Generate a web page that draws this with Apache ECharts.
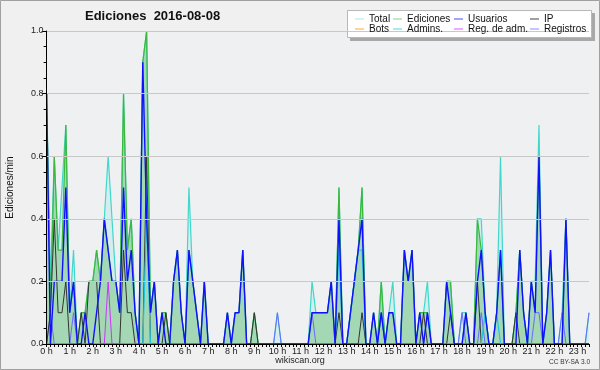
<!DOCTYPE html>
<html><head><meta charset="utf-8">
<script src="https://cdn.jsdelivr.net/npm/echarts@6/dist/echarts.min.js"></script>
<style>html,body{margin:0;padding:0;background:#f0f0f0}#c{width:600px;height:370px}</style>
</head><body><div id="c"></div>
<script>
// 10-minute slots, 00:00 .. 23:30 (142 slots)
const hourLabels = ['0 h','1 h','2 h','3 h','4 h','5 h','6 h','7 h','8 h','9 h','10 h','11 h',
  '12 h','13 h','14 h','15 h','16 h','17 h','18 h','19 h','20 h','21 h','22 h','23 h'];
const yTickLabels = ['0.0','0.2','0.4','0.6','0.8','1.0'];

const total = [
 0.8,0.2,0.6,0.3,0.5,0.7,  0.1,0.3,0,0.1,0.1,0.2,  0.2,0.3,0.2,0.4,0.6,0.4,  0.2,0.1,0.8,0.3,0.4,0.1,
 0,0.9,1.0,0.1,0.2,0,  0.1,0.1,0,0.2,0.3,0.1,  0,0.5,0.2,0.1,0,0.2,  0,0,0,0,0,0.1,
 0,0.1,0.1,0.3,0,0,  0.1,0,0,0,0,0,  0.1,0,0,0,0,0,  0,0,0,0.2,0.1,0.1,
 0.1,0.1,0.2,0,0.5,0,  0,0.1,0.2,0.3,0.5,0,  0,0.1,0,0.2,0,0.1,  0.2,0,0,0.3,0.2,0.3,
 0,0.1,0.1,0.2,0,0,  0,0,0.2,0.2,0,0,  0.1,0.1,0,0,0.4,0.4,  0.1,0,0,0.1,0.6,0,
 0,0,0.1,0.3,0.1,0,  0.2,0.2,0.7,0,0.1,0.3,  0,0,0.1,0.4,0,0,  0,0,0,0.1];
const ediciones = [
 0.8,0.1,0.6,0.3,0.3,0.7,  0.1,0.2,0,0.1,0.1,0.2,  0.2,0.3,0.2,0.4,0.3,0.2,  0.2,0.1,0.8,0.3,0.4,0.1,
 0,0.9,1.0,0.1,0.2,0,  0.1,0.1,0,0.2,0.3,0.1,  0,0.3,0.2,0.1,0,0.2,  0,0,0,0,0,0.1,
 0,0.1,0.1,0.3,0,0,  0.1,0,0,0,0,0,  0,0,0,0,0,0,  0,0,0,0.1,0.1,0.1,
 0.1,0.1,0.2,0,0.5,0,  0,0.1,0.2,0.3,0.5,0,  0,0.1,0,0.2,0,0.1,  0.1,0,0,0.3,0.2,0.3,
 0,0.1,0.1,0.1,0,0,  0,0,0.2,0.2,0,0,  0,0.1,0,0,0.4,0.3,  0.1,0,0,0.1,0.3,0,
 0,0,0.1,0.3,0.1,0,  0.2,0.1,0.6,0,0.1,0.3,  0,0,0,0.4,0,0,  0,0,0,0];
const usuarios = [
 0.8,0,0.2,0.2,0.2,0.5,  0.1,0.2,0,0,0.1,0,  0,0.1,0.2,0.4,0.3,0.2,  0.2,0.1,0.5,0.2,0.3,0.1,
 0,0.9,0.4,0.1,0.2,0,  0.1,0,0,0.2,0.3,0.1,  0,0.3,0.2,0.1,0,0.2,  0,0,0,0,0,0.1,
 0,0.1,0.1,0.3,0,0,  0,0,0,0,0,0,  0,0,0,0,0,0,  0,0,0,0.1,0.1,0.1,
 0.1,0.1,0.2,0,0.4,0,  0,0.1,0.2,0.3,0.4,0,  0,0.1,0,0.1,0,0.1,  0.1,0,0,0.3,0.2,0.3,
 0,0.1,0,0.1,0,0,  0,0,0.2,0.1,0,0,  0,0.1,0,0,0.2,0.3,  0.1,0,0,0.1,0.3,0,
 0,0,0,0.3,0.1,0,  0.2,0.1,0.6,0,0.1,0.3,  0,0,0,0.4,0,0,  0,0,0,0];
const ip = [
 0,0.1,0.4,0.1,0.1,0.2,  0,0,0,0.1,0,0.2,  0.2,0.2,0,0,0,0,  0,0,0.3,0.1,0.1,0,
 0,0,0.6,0,0,0,  0,0.1,0,0,0,0,  0,0,0,0,0,0,  0,0,0,0,0,0,
 0,0,0,0,0,0,  0.1,0,0,0,0,0,  0,0,0,0,0,0,  0,0,0,0,0,0,
 0,0,0,0,0.1,0,  0,0,0,0,0.1,0,  0,0,0,0.1,0,0,  0,0,0,0,0,0,
 0,0,0.1,0,0,0,  0,0,0,0.1,0,0,  0,0,0,0,0.2,0,  0,0,0,0,0,0,
 0,0,0.1,0,0,0,  0,0,0,0,0,0,  0,0,0,0,0,0,  0,0,0,0];
const bots = [
 0,0,0,0,0,0,  0,0,0,0,0,0,  0,0,0,0,0,0,  0,0,0,0,0,0,
 0,0,0,0,0,0,  0,0,0,0,0,0,  0,0,0,0,0,0,  0,0,0,0,0,0,
 0,0,0,0,0,0,  0,0,0,0,0,0,  0,0,0,0,0,0,  0,0,0,0,0,0,
 0,0,0,0,0,0,  0,0,0,0,0,0,  0,0,0,0,0,0,  0,0,0,0,0,0,
 0,0,0,0,0,0,  0,0,0,0,0,0,  0,0,0,0,0,0,  0,0,0,0,0,0,
 0,0,0,0,0,0,  0,0,0,0,0,0,  0,0,0,0,0,0,  0,0,0,0];
const admins = [
 0,0,0,0,0,0,  0,0,0,0,0,0,  0,0,0,0,0,0,  0,0,0,0,0,0,
 0,0,0.4,0,0,0,  0,0,0,0,0,0,  0,0,0,0,0,0,  0,0,0,0,0,0,
 0,0,0,0,0,0,  0,0,0,0,0,0,  0,0,0,0,0,0,  0,0,0,0,0,0,
 0,0,0,0,0.3,0,  0,0.1,0.2,0.3,0.3,0,  0,0,0,0.1,0,0,  0,0,0,0,0,0,
 0,0,0,0,0,0,  0,0,0,0,0,0,  0,0,0,0,0,0,  0.1,0,0,0.1,0,0,
 0,0,0,0,0,0,  0,0,0,0,0,0,  0,0,0,0,0,0,  0,0,0,0];
const regAdm = [
 0,0,0,0,0,0,  0,0,0,0,0,0,  0,0,0,0,0.2,0,  0,0,0,0,0,0,
 0,0,0,0,0,0,  0,0,0,0,0,0,  0,0,0,0,0,0,  0,0,0,0,0,0,
 0,0,0,0,0,0,  0,0,0,0,0,0,  0,0,0,0,0,0,  0,0,0,0,0,0,
 0,0,0,0,0,0,  0,0,0,0,0,0,  0,0,0,0,0,0,  0,0,0,0,0,0,
 0,0,0,0,0,0,  0,0,0,0,0,0,  0,0,0,0,0,0,  0,0,0,0,0,0,
 0,0,0,0,0,0,  0,0,0,0,0,0,  0,0,0,0,0,0,  0,0,0,0];
const registros = [
 0,0.1,0,0,0,0,  0,0.1,0,0,0,0,  0,0,0,0,0,0,  0,0,0,0,0,0,
 0,0,0,0,0,0,  0,0,0,0,0,0,  0,0,0,0,0,0,  0,0,0,0,0,0,
 0,0,0,0,0,0,  0,0,0,0,0,0,  0.1,0,0,0,0,0,  0,0,0,0.1,0,0,
 0,0,0,0,0,0,  0,0,0,0,0,0,  0,0,0,0,0,0,  0,0,0,0,0,0,
 0,0,0,0.1,0,0,  0,0,0,0,0,0,  0.1,0,0,0,0,0.1,  0,0,0,0,0,0,
 0,0,0,0,0,0,  0,0.1,0.1,0,0,0,  0,0,0.1,0,0,0,  0,0,0,0.1];

const slots = [];
hourLabels.forEach(h => { for (let m = 0; m < 6; m++) slots.push(h.replace(' h','') + ':' + m + '0'); });
slots.length = total.length;

const FONT = 'Liberation Sans';
const chart = echarts.init(document.getElementById('c'), null, {renderer: 'canvas'});

function lineSeries(name, data, color, width, extra) {
  return Object.assign({
    name, type: 'line', data, symbol: 'none', showSymbol: false,
    lineStyle: {color, width}, itemStyle: {color}, emphasis: {disabled: true}
  }, extra || {});
}

function legendCol(left, names, colors) {
  return {
    left, top: 14, orient: 'vertical', padding: 0, itemGap: 0, z: 10,
    itemWidth: 9, itemHeight: 1, icon: 'rect', selectedMode: false,
    textStyle: {fontFamily: FONT, fontSize: 10, lineHeight: 10, color: '#111', padding: [0, 0, 0, 0]},
    data: names.map((n, k) => ({name: n, itemStyle: {color: colors[k], borderWidth: 0}}))
  };
}

chart.setOption({
  animation: false,
  backgroundColor: '#f0f0f0',
  title: {
    text: 'Ediciones  2016-08-08', left: 85, top: 10, padding: 0,
    textStyle: {fontFamily: FONT, fontSize: 13, fontWeight: 'bold', color: '#111'}
  },
  legend: [
    legendCol(355, ['Total', 'Bots'], ['#a8e8e4', '#f8a838']),
    legendCol(393, ['Ediciones', 'Admins.'], ['#88d088', '#48d8e8']),
    legendCol(454, ['Usuarios', 'Reg. de adm.'], ['#4a4aff', '#e050ff']),
    legendCol(530, ['IP', 'Registros'], ['#404040', '#8888ff'])
  ],
  grid: {left: 46.6, right: 11, top: 31, bottom: 26, show: true, backgroundColor: '#eef0f2',
    borderWidth: 0, containLabel: false, outerBoundsMode: 'none'},
  xAxis: {
    type: 'category', data: slots, boundaryGap: false, z: 10,
    axisLine: {lineStyle: {color: '#000', width: 1}},
    axisTick: {interval: 0, length: 3, lineStyle: {color: '#000'}},
    axisLabel: {interval: 5, margin: 3, fontFamily: FONT, fontSize: 9, color: '#222',
      formatter: (v, i) => hourLabels[Math.round(i / 6)]},
    splitLine: {show: false}
  },
  yAxis: {
    type: 'value', min: 0, max: 1, interval: 0.2, z: 10,
    name: 'Ediciones/min', nameLocation: 'middle', nameGap: 31,
    nameTextStyle: {fontFamily: FONT, fontSize: 10, color: '#111'},
    axisLine: {show: true, lineStyle: {color: '#000', width: 1}},
    axisTick: {show: true, length: 5, lineStyle: {color: '#000'}},
    minorTick: {show: true, splitNumber: 4, length: 3, lineStyle: {color: '#000'}},
    axisLabel: {margin: 3, fontFamily: FONT, fontSize: 9, color: '#222',
      formatter: v => yTickLabels[Math.round(v / 0.2)]},
    splitLine: {show: true, lineStyle: {color: '#c8c8c8', width: 1}}
  },
  series: [
    lineSeries('Total', total, '#3fd8cb', 1.2, {areaStyle: {color: 'rgba(64,217,204,0.2)'}}),
    lineSeries('Ediciones', ediciones, '#3cb83c', 1.2, {areaStyle: {color: 'rgba(60,170,60,0.45)'}}),
    lineSeries('Bots', bots, '#ffa500', 1),
    lineSeries('Registros', registros, '#6a6aff', 1),
    lineSeries('Reg. de adm.', regAdm, '#cc33ff', 1),
    lineSeries('IP', ip, '#333333', 1),
    lineSeries('Admins.', admins, '#1ec8e0', 1.2),
    lineSeries('Usuarios', usuarios, '#1010ff', 1.4)
  ],
  graphic: [
    {type: 'rect', z: -1, silent: true, shape: {x: 0.5, y: 0.5, width: 599, height: 369},
      style: {fill: 'none', stroke: '#a0a0a0', lineWidth: 1}},
    {type: 'group', z: 5, silent: true, children: [
      {type: 'rect', z: 5, shape: {x: 350, y: 13, width: 245, height: 28}, style: {fill: '#a8a8a8'}},
      {type: 'rect', z: 6, shape: {x: 347.5, y: 10.5, width: 244, height: 27},
        style: {fill: '#ffffff', stroke: '#b8b8b8', lineWidth: 1}}
    ]},
    {type: 'text', z: 20, left: 'center', top: 356,
      style: {text: 'wikiscan.org', font: '9px "Liberation Sans"', fill: '#222'}},
    {type: 'text', z: 20, right: 10, top: 359,
      style: {text: 'CC BY-SA 3.0', font: '6.5px "Liberation Sans"', fill: '#333'}}
  ]
});
</script>
</body></html>
